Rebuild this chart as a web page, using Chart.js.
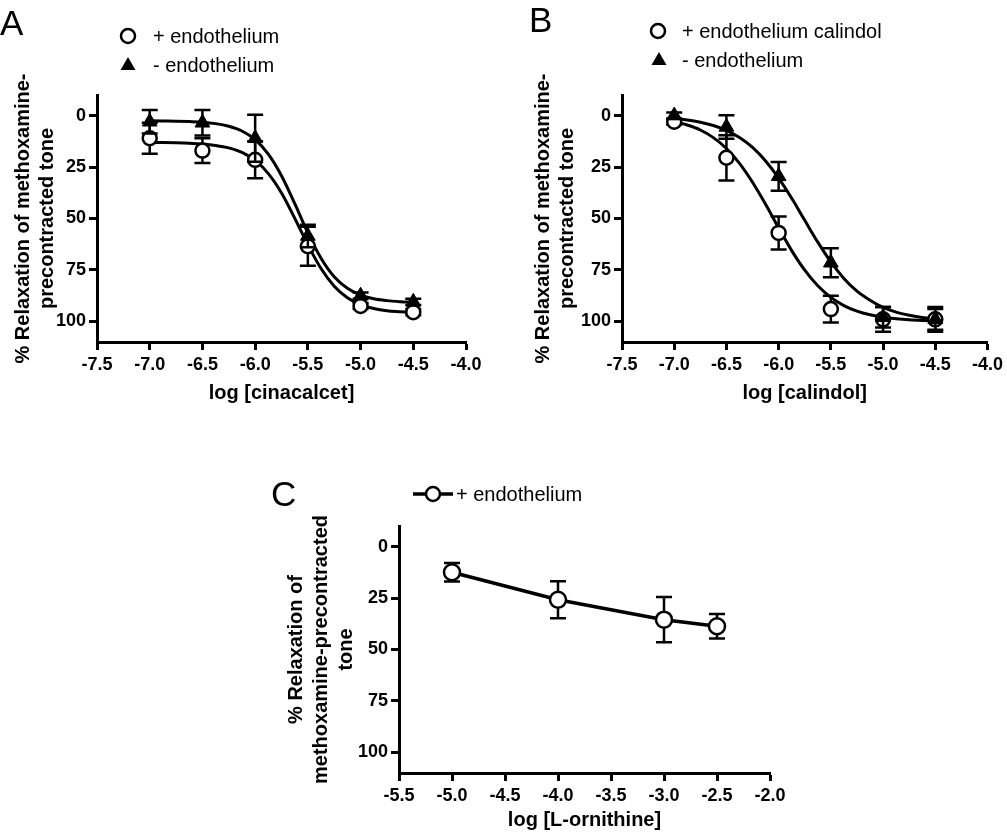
<!DOCTYPE html>
<html>
<head>
<meta charset="utf-8">
<script src="https://cdn.jsdelivr.net/npm/chart.js@4.4.1/dist/chart.umd.min.js"></script>
<style>
body { margin: 0; background: #fff; width: 1007px; height: 832px; position: relative; overflow: hidden; }
canvas { position: absolute; }
</style>
</head>
<body>
<canvas id="chartA" width="500" height="420" style="left:0;top:0"></canvas>
<canvas id="chartB" width="507" height="420" style="left:500px;top:0"></canvas>
<canvas id="chartC" width="560" height="392" style="left:250px;top:440px"></canvas>
<script>
// values (y = % relaxation, axis reversed)
const yTicks = [0, 25, 50, 75, 100];
const xTicksAB = [-7.5, -7.0, -6.5, -6.0, -5.5, -5.0, -4.5, -4.0];
const xTicksC = [-5.5, -5.0, -4.5, -4.0, -3.5, -3.0, -2.5, -2.0];

const doseAB = [-7.0, -6.5, -6.0, -5.5, -5.0, -4.5];
const fitDose = [-7.0, -6.875, -6.75, -6.625, -6.5, -6.375, -6.25, -6.125, -6.0, -5.875, -5.75,
                 -5.625, -5.5, -5.375, -5.25, -5.125, -5.0, -4.875, -4.75, -4.625, -4.5];

// A: cinacalcet
const cinaPlus = [11, 17, 21.5, 63.5, 92.5, 95.5];
const cinaPlusSem = [7.5, 6, 9, 9.5, 1.5, 1.5];
const cinaMinus = [3, 3.5, 11, 58.5, 87.5, 90.5];
const cinaMinusSem = [5.7, 6.2, 11.4, 5.5, 1.5, 1.5];
const cinaPlusFit = [13.1, 13.1, 13.2, 13.4, 13.8, 14.5, 15.7, 17.9, 21.8, 28.2, 37.6,
                     49.8, 62.8, 74.3, 82.9, 88.5, 91.8, 93.7, 94.8, 95.3, 95.7];
const cinaMinusFit = [2.5, 2.6, 2.7, 2.9, 3.2, 3.9, 5.2, 7.5, 11.7, 18.7, 29.2,
                      42.7, 57.0, 69.3, 78.3, 83.9, 87.2, 89.0, 89.9, 90.4, 90.7];

// B: calindol
const caliPlus = [3, 20.5, 57, 94, 99, 99];
const caliPlusSem = [1.5, 11, 8, 6.5, 6, 6];
const caliMinus = [0, 5.5, 29.5, 71.5, 98, 99];
const caliMinusSem = [1.5, 5.7, 7, 7, 5, 5];
const caliPlusFit = [2.9, 4.6, 7.0, 10.7, 16.0, 23.2, 32.4, 43.1, 54.6, 65.6, 75.1,
                     82.7, 88.3, 92.3, 95.0, 96.8, 98.0, 98.7, 99.2, 99.5, 99.7];
const caliMinusFit = [1.4, 2.1, 3.2, 4.8, 7.2, 10.7, 15.5, 22.1, 30.4, 40.2, 50.9,
                      61.5, 71.1, 79.1, 85.3, 89.7, 93.2, 95.5, 97.0, 98.1, 98.7];

// C: L-ornithine
const ornDose = [-5.0, -4.0, -3.0, -2.5];
const ornPlus = [12.5, 25.8, 35.5, 38.7];
const ornPlusSem = [4.5, 9, 11, 6];

Chart.defaults.font.family = "'Liberation Sans', Arial, sans-serif";
Chart.defaults.color = '#000';

function pts(xs, ys) {
    return xs.map((x, i) => ({x: x, y: ys[i]}));
}

// error bars go under the markers of their own dataset
const errorBars = {
    id: 'errorBars',
    beforeDatasetDraw(chart, args) {
        const ds = chart.data.datasets[args.index];
        if (!ds.sem) return;
        const ctx = chart.ctx, xs = chart.scales.x, ys = chart.scales.y;
        ctx.save();
        ctx.strokeStyle = '#000';
        ctx.lineWidth = 2.5;
        ds.data.forEach((p, i) => {
            const x = xs.getPixelForValue(p.x);
            const y1 = ys.getPixelForValue(p.y - ds.sem[i]);
            const y2 = ys.getPixelForValue(p.y + ds.sem[i]);
            ctx.beginPath();
            ctx.moveTo(x, y1); ctx.lineTo(x, y2);
            ctx.moveTo(x - 8, y1); ctx.lineTo(x + 8, y1);
            ctx.moveTo(x - 8, y2); ctx.lineTo(x + 8, y2);
            ctx.stroke();
        });
        ctx.restore();
    }
};

function marker(ctx, kind, x, y) {
    ctx.save();
    ctx.strokeStyle = '#000';
    ctx.fillStyle = '#000';
    if (kind === 'triangle') {
        ctx.beginPath();
        ctx.moveTo(x, y - 8);
        ctx.lineTo(x + 7.5, y + 5);
        ctx.lineTo(x - 7.5, y + 5);
        ctx.closePath();
        ctx.fill();
    } else {
        if (kind === 'lineCircle') {
            ctx.lineWidth = 3.5;
            ctx.beginPath();
            ctx.moveTo(x - 20, y); ctx.lineTo(x + 20, y);
            ctx.stroke();
        }
        ctx.lineWidth = 2.5;
        ctx.fillStyle = '#fff';
        ctx.beginPath();
        ctx.arc(x, y, 7, 0, Math.PI * 2);
        ctx.fill();
        ctx.stroke();
    }
    ctx.restore();
}

// panel letter + legend drawn in the free space above the plot
const panelLegend = {
    id: 'panelLegend',
    afterDraw(chart, args, opts) {
        const ctx = chart.ctx;
        ctx.save();
        ctx.fillStyle = '#000';
        ctx.textBaseline = 'alphabetic';
        ctx.font = "35px 'Liberation Sans', Arial, sans-serif";
        ctx.fillText(opts.letter, opts.letterX, opts.letterY);
        ctx.font = "20px 'Liberation Sans', Arial, sans-serif";
        ctx.textBaseline = 'middle';
        opts.items.forEach(it => {
            marker(ctx, it.marker, it.x, it.y);
            ctx.fillText(chart.data.datasets[it.dataset].label, it.textX, it.y + 1);
        });
        ctx.restore();
    }
};

function scales(xTicks, xTitle, yTitle, g) {
    return {
        x: {
            type: 'linear',
            min: xTicks[0],
            max: xTicks[xTicks.length - 1],
            afterBuildTicks: s => { s.ticks = xTicks.map(v => ({value: v})); },
            afterFit: s => { s.height = g.xHeight; },
            ticks: {
                callback: v => v.toFixed(1),
                font: {size: 18, weight: 'bold'},
                color: '#000',
                padding: 4,
                maxRotation: 0,
                autoSkip: false
            },
            grid: {drawOnChartArea: false, drawTicks: true, tickLength: 8, tickWidth: 3, tickColor: '#000'},
            border: {display: true, color: '#000', width: 3},
            title: {
                display: true, text: xTitle, color: '#000',
                font: {size: 20, weight: 'bold', lineHeight: 1.2},
                padding: {top: 0, bottom: g.xTitlePad}
            }
        },
        y: {
            type: 'linear',
            min: -10,
            max: 110,
            reverse: true,
            afterBuildTicks: s => { s.ticks = yTicks.map(v => ({value: v})); },
            afterFit: s => { s.width = g.yWidth; },
            ticks: {font: {size: 18, weight: 'bold'}, color: '#000', padding: 3},
            grid: {drawOnChartArea: false, drawTicks: true, tickLength: 8, tickWidth: 3, tickColor: '#000'},
            border: {display: true, color: '#000', width: 3},
            title: {
                display: true, text: yTitle, color: '#000',
                font: {size: 20, weight: 'bold', lineHeight: g.yTitleLh},
                padding: {top: g.yTitlePad, bottom: 0}
            }
        }
    };
}

function pointSet(label, xs, ys, sem, style) {
    const tri = style === 'triangle';
    return {
        label: label,
        data: pts(xs, ys),
        sem: sem,
        showLine: false,
        pointStyle: style,
        pointRadius: tri ? 8.5 : 7,
        borderWidth: tri ? 1 : 2.5,
        borderColor: '#000',
        backgroundColor: tri ? '#000' : '#fff'
    };
}

function fitSet(ys) {
    return {
        label: 'fit',
        data: pts(fitDose, ys),
        showLine: true,
        pointRadius: 0,
        borderWidth: 3,
        borderColor: '#000',
        cubicInterpolationMode: 'monotone'
    };
}

function sigmoidPanel(id, plusLabel, plus, plusSem, minus, minusSem, plusFit, minusFit, xTitle, g, legend) {
    new Chart(document.getElementById(id).getContext('2d'), {
        type: 'scatter',
        data: {
            datasets: [
                pointSet('- endothelium', doseAB, minus, minusSem, 'triangle'),
                pointSet(plusLabel, doseAB, plus, plusSem, 'circle'),
                fitSet(minusFit),
                fitSet(plusFit)
            ]
        },
        options: {
            responsive: false,
            animation: false,
            events: [],
            layout: {padding: g.pad},
            plugins: {legend: {display: false}, tooltip: {enabled: false}, panelLegend: legend},
            scales: scales(xTicksAB, xTitle, ['% Relaxation of methoxamine-', 'precontracted tone'], g)
        },
        plugins: [errorBars, panelLegend]
    });
}

sigmoidPanel('chartA', '+ endothelium', cinaPlus, cinaPlusSem, cinaMinus, cinaMinusSem,
    cinaPlusFit, cinaMinusFit, 'log [cinacalcet]',
    {pad: {top: 95, right: 34, left: 0, bottom: 0}, xHeight: 78, yWidth: 97, xTitlePad: 15, yTitlePad: 11, yTitleLh: 1.2},
    {letter: 'A', letterX: 0, letterY: 35, items: [
        {dataset: 1, marker: 'circle', x: 128, y: 36, textX: 153},
        {dataset: 0, marker: 'triangle', x: 128, y: 65, textX: 153}
    ]});

sigmoidPanel('chartB', '+ endothelium calindol', caliPlus, caliPlusSem, caliMinus, caliMinusSem,
    caliPlusFit, caliMinusFit, 'log [calindol]',
    {pad: {top: 95, right: 14, left: 0, bottom: 0}, xHeight: 78, yWidth: 122, xTitlePad: 15, yTitlePad: 31, yTitleLh: 1.2},
    {letter: 'B', letterX: 29, letterY: 32, items: [
        {dataset: 1, marker: 'circle', x: 158, y: 31, textX: 182},
        {dataset: 0, marker: 'triangle', x: 159, y: 60, textX: 182}
    ]});

new Chart(document.getElementById('chartC').getContext('2d'), {
    type: 'scatter',
    data: {
        datasets: [{
            label: '+ endothelium',
            data: pts(ornDose, ornPlus),
            sem: ornPlusSem,
            showLine: true,
            tension: 0,
            borderColor: '#000',
            borderWidth: 3.5,
            pointStyle: 'circle',
            pointRadius: 8,
            pointBorderWidth: 2.5,
            pointBackgroundColor: '#fff',
            pointBorderColor: '#000'
        }]
    },
    options: {
        responsive: false,
        animation: false,
        events: [],
        layout: {padding: {top: 86, right: 40, left: 0, bottom: 0}},
        plugins: {
            legend: {display: false},
            tooltip: {enabled: false},
            panelLegend: {letter: 'C', letterX: 21, letterY: 66, items: [
                {dataset: 0, marker: 'lineCircle', x: 183, y: 54, textX: 206}
            ]}
        },
        scales: scales(xTicksC, 'log [L-ornithine]',
            ['% Relaxation of', 'methoxamine-precontracted', 'tone'],
            {xHeight: 59, yWidth: 149, xTitlePad: 0, yTitlePad: 34, yTitleLh: 1.25})
    },
    plugins: [errorBars, panelLegend]
});
</script>
</body>
</html>
